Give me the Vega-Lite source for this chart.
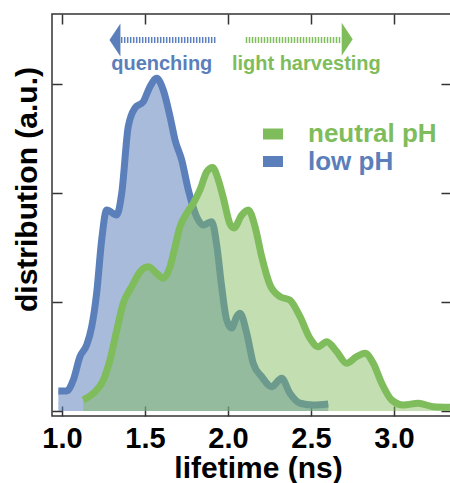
{
  "$schema": "https://vega.github.io/schema/vega-lite/v6.json",
  "width": 399,
  "height": 402,
  "autosize": "none",
  "padding": {"left": 52, "top": 14, "right": 0, "bottom": 67},
  "background": "white",
  "config": {
    "view": {"stroke": "#333333", "strokeWidth": 1.5},
    "font": "Liberation Sans"
  },
  "datasets": {
    "low": [
      {"x": 0.978, "y": 0.183}, {"x": 1.028, "y": 0.183}, {"x": 1.068, "y": 0.284}, {"x": 1.108, "y": 0.498},
      {"x": 1.149, "y": 0.606}, {"x": 1.179, "y": 0.773}, {"x": 1.209, "y": 1.083}, {"x": 1.239, "y": 1.569},
      {"x": 1.269, "y": 1.844}, {"x": 1.33, "y": 1.798}, {"x": 1.36, "y": 2.0}, {"x": 1.399, "y": 2.608},
      {"x": 1.44, "y": 2.78}, {"x": 1.49, "y": 2.838}, {"x": 1.53, "y": 2.975}, {"x": 1.57, "y": 3.052},
      {"x": 1.61, "y": 2.945}, {"x": 1.651, "y": 2.7}, {"x": 1.681, "y": 2.486}, {"x": 1.721, "y": 2.303},
      {"x": 1.761, "y": 2.028}, {"x": 1.811, "y": 1.783}, {"x": 1.851, "y": 1.706}, {"x": 1.902, "y": 1.737},
      {"x": 1.932, "y": 1.523}, {"x": 1.962, "y": 1.14}, {"x": 1.992, "y": 0.835}, {"x": 2.022, "y": 0.761},
      {"x": 2.052, "y": 0.865}, {"x": 2.072, "y": 0.896}, {"x": 2.113, "y": 0.713}, {"x": 2.152, "y": 0.438},
      {"x": 2.203, "y": 0.315}, {"x": 2.263, "y": 0.223}, {"x": 2.323, "y": 0.3}, {"x": 2.373, "y": 0.162},
      {"x": 2.434, "y": 0.071}, {"x": 2.514, "y": 0.055}, {"x": 2.604, "y": 0.064}
    ],
    "neutral": [
      {"x": 1.128, "y": 0.101}, {"x": 1.189, "y": 0.162}, {"x": 1.249, "y": 0.284}, {"x": 1.289, "y": 0.468},
      {"x": 1.33, "y": 0.743}, {"x": 1.369, "y": 0.988}, {"x": 1.42, "y": 1.14}, {"x": 1.47, "y": 1.278},
      {"x": 1.52, "y": 1.324}, {"x": 1.57, "y": 1.263}, {"x": 1.61, "y": 1.217}, {"x": 1.651, "y": 1.324},
      {"x": 1.681, "y": 1.507}, {"x": 1.711, "y": 1.691}, {"x": 1.751, "y": 1.813}, {"x": 1.791, "y": 1.906},
      {"x": 1.831, "y": 2.028}, {"x": 1.872, "y": 2.195}, {"x": 1.907, "y": 2.234}, {"x": 1.942, "y": 2.119},
      {"x": 1.972, "y": 1.954}, {"x": 2.012, "y": 1.716}, {"x": 2.036, "y": 1.679}, {"x": 2.083, "y": 1.798},
      {"x": 2.122, "y": 1.844}, {"x": 2.163, "y": 1.691}, {"x": 2.203, "y": 1.416}, {"x": 2.253, "y": 1.156},
      {"x": 2.313, "y": 1.049}, {"x": 2.373, "y": 1.018}, {"x": 2.434, "y": 0.865}, {"x": 2.494, "y": 0.667},
      {"x": 2.544, "y": 0.59}, {"x": 2.595, "y": 0.636}, {"x": 2.655, "y": 0.544}, {"x": 2.715, "y": 0.438},
      {"x": 2.775, "y": 0.498}, {"x": 2.825, "y": 0.529}, {"x": 2.875, "y": 0.438}, {"x": 2.926, "y": 0.254},
      {"x": 2.986, "y": 0.101}, {"x": 3.056, "y": 0.055}, {"x": 3.146, "y": 0.071}, {"x": 3.237, "y": 0.039},
      {"x": 3.337, "y": 0.034}
    ],
    "shafts": [
      {"x": 1.337, "x2": 1.928, "y": 3.404, "c": "blue"},
      {"x": 2.107, "x2": 2.685, "y": 3.404, "c": "green"}
    ],
    "ticks": [
      {"x": 1.0, "y": 0}, {"x": 1.5, "y": 1}, {"x": 2.0, "y": 2}, {"x": 2.5, "y": 3}, {"x": 3.0, "y": 0}
    ]
  },
  "resolve": {"axis": {"x": "independent", "y": "independent"}},
  "layer": [
    {
      "data": {"name": "low"},
      "transform": [{"calculate": "'low pH'", "as": "series"}],
      "mark": {"type": "area", "interpolate": "monotone", "fillOpacity": 0.53},
      "encoding": {
        "x": {"field": "x", "type": "quantitative",
          "scale": {"domain": [0.9398, 3.3434], "nice": false, "zero": false},
          "axis": {"orient": "bottom", "values": [1, 1.5, 2, 2.5, 3], "format": ".1f", "grid": false, "domain": false,
            "tickSize": -10, "tickColor": "#333333", "tickWidth": 1.5,
            "labelFont": "Liberation Sans", "labelFontWeight": "bold", "labelFontSize": 29, "labelColor": "black",
            "labelBaseline": "alphabetic", "labelPadding": 41, "labelFlush": false,
            "title": "lifetime (ns)", "titleFont": "Liberation Sans", "titleFontWeight": "bold", "titleFontSize": 30,
            "titleColor": "black", "titleX": 206, "titleY": 61, "titleBaseline": "alphabetic", "titleAlign": "center"}},
        "y": {"field": "y", "type": "quantitative",
          "scale": {"domain": [-0.0459, 3.642], "nice": false, "zero": false},
          "axis": {"orient": "left", "values": [0, 1, 2, 3], "labels": false, "grid": false, "domain": false,
            "tickSize": -10, "tickColor": "#333333", "tickWidth": 1.5,
            "title": "distribution (a.u.)", "titleFont": "Liberation Sans", "titleFontWeight": "bold", "titleFontSize": 30,
            "titleColor": "black", "titleX": -16, "titleY": 175, "titleAngle": -90, "titleBaseline": "alphabetic", "titleAlign": "center"}},
        "y2": {"datum": 0},
        "color": {"field": "series", "type": "nominal",
          "scale": {"domain": ["neutral pH", "low pH"], "range": ["#7fbc5b", "#5b7fba"]},
          "legend": {"orient": "none", "legendX": 208, "legendY": 107, "title": null, "padding": 0,
            "labelFont": "Liberation Sans", "labelFontSize": 26, "labelFontWeight": "bold", "labelOffset": 22,
            "symbolType": "M-1,-0.55H1V0.55H-1Z", "symbolSize": 400, "symbolOpacity": 1, "symbolStrokeWidth": 0,
            "rowPadding": 1.5,
            "encode": {"labels": {"update": {"fill": {"signal": "datum.label == 'low pH' ? '#5b7fba' : '#7fbc5b'"}}}}}}
      }
    },
    {
      "data": {"name": "low"},
      "mark": {"type": "line", "interpolate": "monotone", "stroke": "#5b7fba", "strokeWidth": 7, "strokeJoin": "round"},
      "encoding": {
        "x": {"field": "x", "type": "quantitative", "axis": null},
        "y": {"field": "y", "type": "quantitative", "axis": null}
      }
    },
    {
      "data": {"name": "neutral"},
      "transform": [{"calculate": "'neutral pH'", "as": "series"}],
      "mark": {"type": "area", "interpolate": "monotone", "fillOpacity": 0.47},
      "encoding": {
        "x": {"field": "x", "type": "quantitative", "axis": null},
        "y": {"field": "y", "type": "quantitative", "axis": null},
        "y2": {"datum": 0},
        "color": {"field": "series", "type": "nominal"}
      }
    },
    {
      "data": {"name": "neutral"},
      "mark": {"type": "line", "interpolate": "monotone", "stroke": "#7fbc5b", "strokeWidth": 7, "strokeJoin": "round"},
      "encoding": {
        "x": {"field": "x", "type": "quantitative", "axis": null},
        "y": {"field": "y", "type": "quantitative", "axis": null}
      }
    },
    {
      "data": {"name": "shafts"},
      "mark": {"type": "rule", "strokeWidth": 6, "strokeDash": [1.5, 1.5]},
      "encoding": {
        "x": {"field": "x", "type": "quantitative", "axis": null},
        "x2": {"field": "x2"},
        "y": {"field": "y", "type": "quantitative", "axis": null},
        "stroke": {"field": "c", "type": "nominal", "scale": {"domain": ["blue", "green"], "range": ["#5b7fba", "#7fbc5b"]}, "legend": null}
      }
    },
    {
      "data": {"values": [{"x": 1.319, "y": 3.404}]},
      "mark": {"type": "point", "shape": "M-0.333,0L0.333,-1L0.333,1Z", "size": 1089, "filled": true, "fill": "#5b7fba", "opacity": 1, "strokeWidth": 0},
      "encoding": {
        "x": {"field": "x", "type": "quantitative", "axis": null},
        "y": {"field": "y", "type": "quantitative", "axis": null}
      }
    },
    {
      "data": {"values": [{"x": 2.718, "y": 3.41}]},
      "mark": {"type": "point", "shape": "M0.333,0L-0.333,-1L-0.333,1Z", "size": 1089, "filled": true, "fill": "#7fbc5b", "opacity": 1, "strokeWidth": 0},
      "encoding": {
        "x": {"field": "x", "type": "quantitative", "axis": null},
        "y": {"field": "y", "type": "quantitative", "axis": null}
      }
    },
    {
      "data": {"values": [{"x": 1.601, "y": 3.128, "t": "quenching"}]},
      "mark": {"type": "text", "font": "Liberation Sans", "fontWeight": "bold", "fontSize": 20, "align": "center", "baseline": "alphabetic", "fill": "#5b7fba"},
      "encoding": {
        "x": {"field": "x", "type": "quantitative", "axis": null},
        "y": {"field": "y", "type": "quantitative", "axis": null},
        "text": {"field": "t"}
      }
    },
    {
      "data": {"values": [{"x": 2.472, "y": 3.128, "t": "light harvesting"}]},
      "mark": {"type": "text", "font": "Liberation Sans", "fontWeight": "bold", "fontSize": 20, "align": "center", "baseline": "alphabetic", "fill": "#7fbc5b"},
      "encoding": {
        "x": {"field": "x", "type": "quantitative", "axis": null},
        "y": {"field": "y", "type": "quantitative", "axis": null},
        "text": {"field": "t"}
      }
    },
    {
      "data": {"name": "ticks"},
      "mark": {"type": "point", "opacity": 0},
      "encoding": {
        "x": {"field": "x", "type": "quantitative",
          "axis": {"orient": "top", "values": [1, 1.5, 2, 2.5, 3], "labels": false, "grid": false, "domain": false,
            "tickSize": -10, "tickColor": "#333333", "tickWidth": 1.5, "title": null}},
        "y": {"field": "y", "type": "quantitative",
          "axis": {"orient": "right", "values": [0, 1, 2, 3], "labels": false, "grid": false, "domain": false,
            "tickSize": -10, "tickColor": "#333333", "tickWidth": 1.5, "title": null}}
      }
    }
  ]
}
